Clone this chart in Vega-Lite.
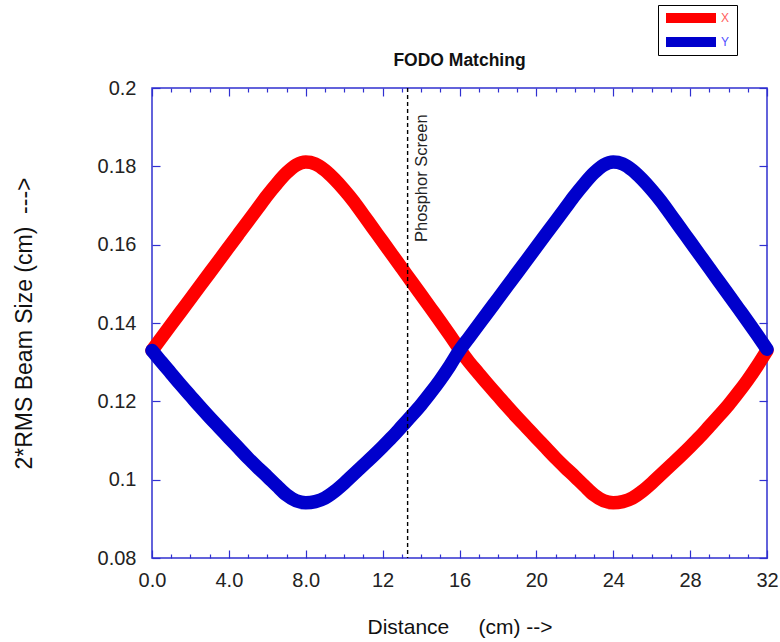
{
  "$schema": "https://vega.github.io/schema/vega-lite/v6.json",
  "width": 615,
  "height": 470,
  "autosize": {"type": "none"},
  "padding": {"left": 152, "top": 88, "right": 13, "bottom": 84},
  "background": "white",
  "config": {
    "view": {"stroke": "#3030d0", "strokeWidth": 1.5},
    "font": "Liberation Sans",
    "axis": {"domain": false, "grid": false, "tickColor": "#3030d0", "tickWidth": 1.2, "labelFont": "Liberation Sans", "labelFontSize": 20, "labelColor": "#222222", "titleFont": "Liberation Sans", "titleFontSize": 21, "titleFontWeight": "normal", "titleColor": "#111111"}
  },
  "title": {"text": "FODO Matching", "fontSize": 17.5, "fontWeight": "bold", "font": "Liberation Sans", "color": "#111111", "offset": 0, "dy": 65, "anchor": "middle"},
  "datasets": {
    "beam": [
      {"d": 0, "s": "X", "v": 0.1330}, {"d": 0.5, "s": "X", "v": 0.1363}, {"d": 1, "s": "X", "v": 0.1396}, {"d": 1.5, "s": "X", "v": 0.1429}, {"d": 2, "s": "X", "v": 0.1462}, {"d": 2.5, "s": "X", "v": 0.1495}, {"d": 3, "s": "X", "v": 0.1528}, {"d": 3.5, "s": "X", "v": 0.1561}, {"d": 4, "s": "X", "v": 0.1594}, {"d": 4.5, "s": "X", "v": 0.1627}, {"d": 5, "s": "X", "v": 0.1660}, {"d": 5.5, "s": "X", "v": 0.1693}, {"d": 6, "s": "X", "v": 0.1726}, {"d": 6.5, "s": "X", "v": 0.1756}, {"d": 7, "s": "X", "v": 0.1783}, {"d": 7.5, "s": "X", "v": 0.1803}, {"d": 8, "s": "X", "v": 0.1811}, {"d": 8.5, "s": "X", "v": 0.1806}, {"d": 9, "s": "X", "v": 0.1790}, {"d": 9.5, "s": "X", "v": 0.1767}, {"d": 10, "s": "X", "v": 0.1740}, {"d": 10.5, "s": "X", "v": 0.1710}, {"d": 11, "s": "X", "v": 0.1676}, {"d": 11.5, "s": "X", "v": 0.1642}, {"d": 12, "s": "X", "v": 0.1608}, {"d": 12.5, "s": "X", "v": 0.1574}, {"d": 13, "s": "X", "v": 0.1540}, {"d": 13.5, "s": "X", "v": 0.1506}, {"d": 14, "s": "X", "v": 0.1472}, {"d": 14.5, "s": "X", "v": 0.1438}, {"d": 15, "s": "X", "v": 0.1404}, {"d": 15.5, "s": "X", "v": 0.1369}, {"d": 16, "s": "X", "v": 0.1333},
      {"d": 16.5, "s": "X", "v": 0.1300}, {"d": 17, "s": "X", "v": 0.1271}, {"d": 17.5, "s": "X", "v": 0.1242}, {"d": 18, "s": "X", "v": 0.1214}, {"d": 18.5, "s": "X", "v": 0.1186}, {"d": 19, "s": "X", "v": 0.1159}, {"d": 19.5, "s": "X", "v": 0.1133}, {"d": 20, "s": "X", "v": 0.1107}, {"d": 20.5, "s": "X", "v": 0.1081}, {"d": 21, "s": "X", "v": 0.1055}, {"d": 21.5, "s": "X", "v": 0.1031}, {"d": 22, "s": "X", "v": 0.1008}, {"d": 22.5, "s": "X", "v": 0.0984}, {"d": 23, "s": "X", "v": 0.0961}, {"d": 23.5, "s": "X", "v": 0.0946}, {"d": 24, "s": "X", "v": 0.0941}, {"d": 24.5, "s": "X", "v": 0.0944}, {"d": 25, "s": "X", "v": 0.0953}, {"d": 25.5, "s": "X", "v": 0.0970}, {"d": 26, "s": "X", "v": 0.0991}, {"d": 26.5, "s": "X", "v": 0.1014}, {"d": 27, "s": "X", "v": 0.1037}, {"d": 27.5, "s": "X", "v": 0.1060}, {"d": 28, "s": "X", "v": 0.1084}, {"d": 28.5, "s": "X", "v": 0.1109}, {"d": 29, "s": "X", "v": 0.1136}, {"d": 29.5, "s": "X", "v": 0.1163}, {"d": 30, "s": "X", "v": 0.1191}, {"d": 30.5, "s": "X", "v": 0.1222}, {"d": 31, "s": "X", "v": 0.1255}, {"d": 31.5, "s": "X", "v": 0.1291}, {"d": 32, "s": "X", "v": 0.1330},
      {"d": 0, "s": "Y", "v": 0.1330}, {"d": 0.5, "s": "Y", "v": 0.1300}, {"d": 1, "s": "Y", "v": 0.1271}, {"d": 1.5, "s": "Y", "v": 0.1242}, {"d": 2, "s": "Y", "v": 0.1214}, {"d": 2.5, "s": "Y", "v": 0.1186}, {"d": 3, "s": "Y", "v": 0.1159}, {"d": 3.5, "s": "Y", "v": 0.1133}, {"d": 4, "s": "Y", "v": 0.1107}, {"d": 4.5, "s": "Y", "v": 0.1081}, {"d": 5, "s": "Y", "v": 0.1055}, {"d": 5.5, "s": "Y", "v": 0.1031}, {"d": 6, "s": "Y", "v": 0.1008}, {"d": 6.5, "s": "Y", "v": 0.0984}, {"d": 7, "s": "Y", "v": 0.0961}, {"d": 7.5, "s": "Y", "v": 0.0946}, {"d": 8, "s": "Y", "v": 0.0941}, {"d": 8.5, "s": "Y", "v": 0.0944}, {"d": 9, "s": "Y", "v": 0.0953}, {"d": 9.5, "s": "Y", "v": 0.0970}, {"d": 10, "s": "Y", "v": 0.0991}, {"d": 10.5, "s": "Y", "v": 0.1014}, {"d": 11, "s": "Y", "v": 0.1037}, {"d": 11.5, "s": "Y", "v": 0.1060}, {"d": 12, "s": "Y", "v": 0.1084}, {"d": 12.5, "s": "Y", "v": 0.1109}, {"d": 13, "s": "Y", "v": 0.1136}, {"d": 13.5, "s": "Y", "v": 0.1163}, {"d": 14, "s": "Y", "v": 0.1191}, {"d": 14.5, "s": "Y", "v": 0.1222}, {"d": 15, "s": "Y", "v": 0.1255}, {"d": 15.5, "s": "Y", "v": 0.1291}, {"d": 16, "s": "Y", "v": 0.1330},
      {"d": 16.5, "s": "Y", "v": 0.1363}, {"d": 17, "s": "Y", "v": 0.1396}, {"d": 17.5, "s": "Y", "v": 0.1429}, {"d": 18, "s": "Y", "v": 0.1462}, {"d": 18.5, "s": "Y", "v": 0.1495}, {"d": 19, "s": "Y", "v": 0.1528}, {"d": 19.5, "s": "Y", "v": 0.1561}, {"d": 20, "s": "Y", "v": 0.1594}, {"d": 20.5, "s": "Y", "v": 0.1627}, {"d": 21, "s": "Y", "v": 0.1660}, {"d": 21.5, "s": "Y", "v": 0.1693}, {"d": 22, "s": "Y", "v": 0.1726}, {"d": 22.5, "s": "Y", "v": 0.1756}, {"d": 23, "s": "Y", "v": 0.1783}, {"d": 23.5, "s": "Y", "v": 0.1803}, {"d": 24, "s": "Y", "v": 0.1811}, {"d": 24.5, "s": "Y", "v": 0.1806}, {"d": 25, "s": "Y", "v": 0.1790}, {"d": 25.5, "s": "Y", "v": 0.1767}, {"d": 26, "s": "Y", "v": 0.1740}, {"d": 26.5, "s": "Y", "v": 0.1710}, {"d": 27, "s": "Y", "v": 0.1676}, {"d": 27.5, "s": "Y", "v": 0.1642}, {"d": 28, "s": "Y", "v": 0.1608}, {"d": 28.5, "s": "Y", "v": 0.1574}, {"d": 29, "s": "Y", "v": 0.1540}, {"d": 29.5, "s": "Y", "v": 0.1506}, {"d": 30, "s": "Y", "v": 0.1472}, {"d": 30.5, "s": "Y", "v": 0.1438}, {"d": 31, "s": "Y", "v": 0.1404}, {"d": 31.5, "s": "Y", "v": 0.1369}, {"d": 32, "s": "Y", "v": 0.1333}
    ],
    "screen": [{"label": "Phosphor Screen", "d": 13.3, "v": 0.1607}]
  },
  "resolve": {"axis": {"x": "independent", "y": "independent"}},
  "layer": [
    {
      "data": {"name": "beam"},
      "mark": {"type": "line", "strokeWidth": 13.5, "strokeCap": "round", "strokeJoin": "round", "interpolate": "monotone"},
      "encoding": {
        "x": {"field": "d", "type": "quantitative", "scale": {"domain": [0, 32], "nice": false, "zero": false},
          "axis": {"orient": "bottom", "title": "Distance\u00a0\u00a0\u00a0\u00a0 (cm) -->", "values": [0, 4, 8, 12, 16, 20, 24, 28, 32],
            "labelExpr": "datum.value < 10 ? format(datum.value, '.1f') : format(datum.value, 'd')",
            "tickSize": 8, "offset": -8, "labelPadding": 12, "titlePadding": 26, "labelFlush": false}},
        "y": {"field": "v", "type": "quantitative", "scale": {"domain": [0.08, 0.2], "nice": false, "zero": false},
          "axis": {"orient": "left", "title": "2*RMS Beam Size (cm)\u00a0\u00a0--->", "titleFontSize": 23, "values": [0.08, 0.1, 0.12, 0.14, 0.16, 0.18, 0.2], "format": ".2~f", "tickSize": 8, "offset": -8, "labelPadding": 16, "titlePadding": 61, "labelFlush": false}},
        "color": {"field": "s", "type": "nominal", "scale": {"domain": ["X", "Y"], "range": ["#ff0000", "#0000cc"]},
          "legend": {"orient": "none", "legendX": 506, "legendY": -83, "title": null, "symbolType": "M-1,-1L9,-1L9,1L-1,1Z", "symbolSize": 100, "symbolStrokeWidth": 0, "labelFontSize": 12, "labelOffset": 44, "rowPadding": 12, "padding": 7, "strokeColor": "#000000", "fillColor": "#ffffff",
            "encode": {
              "symbols": {"update": {"fill": {"scale": "color", "field": "value"}, "strokeWidth": {"value": 0}}},
              "labels": {"update": {"fill": {"signal": "datum.label === 'X' ? '#ff6060' : '#5050ff'"}}}}}}
      }
    },
    {
      "data": {"name": "screen"},
      "mark": {"type": "rule", "color": "#000000", "strokeWidth": 1.4, "strokeDash": [4, 3]},
      "encoding": {
        "x": {"field": "d", "type": "quantitative", "scale": {"domain": [0, 32], "nice": false, "zero": false},
          "axis": {"orient": "top", "title": null, "labels": false, "values": [0, 4, 8, 12, 16, 20, 24, 28, 32], "tickSize": 8, "offset": -8}}
      }
    },
    {
      "data": {"name": "screen"},
      "mark": {"type": "text", "angle": 270, "align": "left", "baseline": "top", "dy": 6, "fontSize": 16.5, "font": "Liberation Sans", "color": "#222222"},
      "encoding": {
        "text": {"field": "label"},
        "x": {"field": "d", "type": "quantitative", "scale": {"domain": [0, 32], "nice": false, "zero": false}, "axis": null},
        "y": {"field": "v", "type": "quantitative", "scale": {"domain": [0.08, 0.2], "nice": false, "zero": false},
          "axis": {"orient": "right", "title": null, "labels": false, "values": [0.08, 0.1, 0.12, 0.14, 0.16, 0.18, 0.2], "tickSize": 8, "offset": -8}}
      }
    },
    {
      "data": {"name": "screen"},
      "mark": {"type": "rule", "opacity": 0},
      "encoding": {
        "x": {"field": "d", "type": "quantitative", "scale": {"domain": [0, 32], "nice": false, "zero": false},
          "axis": {"orient": "bottom", "title": null, "labels": false, "values": [1, 2, 3, 5, 6, 7, 9, 10, 11, 13, 14, 15, 17, 18, 19, 21, 22, 23, 25, 26, 27, 29, 30, 31], "tickSize": 4, "offset": -4}}
      }
    },
    {
      "data": {"name": "screen"},
      "mark": {"type": "rule", "opacity": 0},
      "encoding": {
        "x": {"field": "d", "type": "quantitative", "scale": {"domain": [0, 32], "nice": false, "zero": false},
          "axis": {"orient": "top", "title": null, "labels": false, "values": [1, 2, 3, 5, 6, 7, 9, 10, 11, 13, 14, 15, 17, 18, 19, 21, 22, 23, 25, 26, 27, 29, 30, 31], "tickSize": 4, "offset": -4}}
      }
    }
  ]
}
